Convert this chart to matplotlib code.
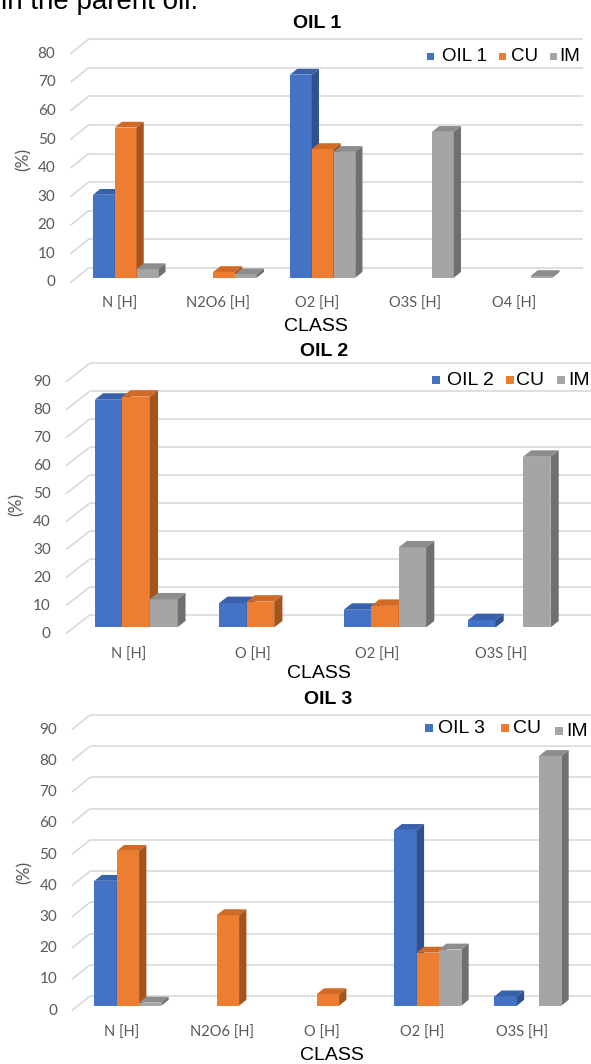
import numpy as np
import matplotlib
matplotlib.use("Agg")
import matplotlib.pyplot as plt
from matplotlib.patches import Polygon, Rectangle

W, H = 591, 1064
DPI = 100

# ---- data -------------------------------------------------------------
oil1_classes = ["N [H]", "N2O6 [H]", "O2 [H]", "O3S [H]", "O4 [H]"]
oil1_oil = [29, 0, 71, 0, 0]
oil1_cu = [52.5, 2, 45, 0, 0]
oil1_im = [3, 1.2, 44, 51, 0.6]
oil1_ticks = list(range(0, 90, 10))

oil2_classes = ["N [H]", "O [H]", "O2 [H]", "O3S [H]"]
oil2_oil = [81.4, 8.7, 6.3, 2.6]
oil2_cu = [82.5, 9.2, 7.7, 0]
oil2_im = [10, 0, 28.6, 61]
oil2_ticks = list(range(0, 100, 10))

oil3_classes = ["N [H]", "N2O6 [H]", "O [H]", "O2 [H]", "O3S [H]"]
oil3_oil = [40, 0, 0, 56.3, 3]
oil3_cu = [49.6, 29, 3.7, 17, 0]
oil3_im = [1, 0, 0, 18, 80]
oil3_ticks = list(range(0, 100, 10))

# ---- style ------------------------------------------------------------
FRONT = ["#4472C4", "#ED7D31", "#A5A5A5"]
TOP = ["#3861AC", "#D06A25", "#8D8D8D"]
SIDE = ["#2F528F", "#A5541C", "#707070"]
GRID = "#D9D9D9"
TICK_COLOR = "#595959"
TICK_FONT = ["Lato", "DejaVu Sans"]
MAIN_FONT = ["Liberation Sans", "DejaVu Sans"]

fig = plt.figure(figsize=(W / DPI, H / DPI), dpi=DPI)
fig.patch.set_facecolor("white")


def fpos(x, y):
    return x / W, 1 - y / H


def draw_panel(classes, series, ticks, title, first_label, lay):
    T, B = lay["box"]
    c0, s, y0, k = lay["c0"], lay["s"], lay["y0"], lay["k"]
    ax = fig.add_axes([0, 1 - B / H, 1, (B - T) / H])
    ax.set_xlim((0 - c0) / s, (W - c0) / s)
    ax.set_ylim((y0 - B) / k, (y0 - T) / k)
    ax.axis("off")

    dxc = lay["dx"] / s
    dyu = lay["dy"] / k
    x_left = -0.5
    x_back_right = (lay["grid_right"] - c0) / s

    # back wall gridlines and left-wall diagonals
    for v in ticks:
        ax.plot([x_left, x_left + dxc], [v, v + dyu], color=GRID, lw=1.2,
                zorder=1, solid_capstyle="butt")
        ax.plot([x_left + dxc, x_back_right], [v + dyu, v + dyu], color=GRID,
                lw=1.2, zorder=1, solid_capstyle="butt")
        ax.text(x_left - lay["tick_gap"] / s, v, str(v), ha="right",
                va="center", fontsize=11, color=TICK_COLOR, family=TICK_FONT)

    # category labels
    for i, name in enumerate(classes):
        ax.text(i, -lay["xlab_off"] / k, name, ha="center", va="center",
                fontsize=10.5, color=TICK_COLOR, family=TICK_FONT)

    # pseudo-3D bars
    w = lay["bar_w"]
    d1, dd = lay["d1"], lay["dd"]
    base = d1 * dyu
    ddx, ddy = dd * dxc, dd * dyu
    xs = np.arange(len(classes))
    for j, vals in enumerate(series):
        vals = np.asarray(vals, dtype=float)
        keep = vals > 0
        xc = xs[keep] + (j - 1) * w + d1 * dxc
        hv = vals[keep]
        z = 3 + j
        ax.bar(xc, hv, width=w, bottom=base, color=FRONT[j], linewidth=0,
               zorder=z)
        for x, v in zip(xc, hv):
            xl, xr = x - w / 2, x + w / 2
            top = base + v
            ax.add_patch(Polygon([(xl, top), (xr, top), (xr + ddx, top + ddy),
                                  (xl + ddx, top + ddy)], closed=True,
                                 facecolor=TOP[j], edgecolor="none", zorder=z))
            ax.add_patch(Polygon([(xr, base), (xr, top), (xr + ddx, top + ddy),
                                  (xr + ddx, base + ddy)], closed=True,
                                 facecolor=SIDE[j], edgecolor="none", zorder=z))

    # titles and axis captions
    tx, ty = lay["title"]
    fig.text(*fpos(tx, ty), title, ha="center", va="center", fontsize=14,
             fontweight="bold", family=MAIN_FONT)
    cx, cy = lay["class"]
    fig.text(*fpos(cx, cy), "CLASS", ha="center", va="center", fontsize=14,
             family=MAIN_FONT)
    px, py = lay["ylab"]
    fig.text(*fpos(px, py), "(%)", ha="center", va="center", rotation=90,
             fontsize=12.5, color=TICK_COLOR, family=TICK_FONT)

    # legend
    labels = [first_label, "CU", "IM"]
    for j, (sqx, txx, dy_leg) in enumerate(lay["legend"]):
        ly = lay["legend_y"] + dy_leg
        sq = lay["sq"]
        fx, fy = fpos(sqx, ly + sq / 2)
        fig.patches.append(Rectangle((fx, fy), sq / W, sq / H,
                                     transform=fig.transFigure,
                                     facecolor=FRONT[j], edgecolor="none"))
        fig.text(*fpos(txx, ly), labels[j], ha="left", va="center",
                 fontsize=lay["leg_fs"], family=MAIN_FONT)


# fragment of the caption line above the charts
fig.text(*fpos(1, 9), "in the parent oil.", ha="left", va="baseline",
         fontsize=20, family=MAIN_FONT)

lay1 = dict(box=(0, 340), c0=119.7, s=98.5, y0=282.5, k=2.86, dx=18, dy=14.5,
            grid_right=582.7, tick_gap=15, xlab_off=21.5, bar_w=0.221,
            d1=0.33, dd=0.4, title=(316.7, 24),
            ylab=(24, 159), legend_y=56.5, sq=7, leg_fs=13.5,
            legend=[(427, 442, 0), (499, 511, 0), (550, 559, 0)])
lay1["class"] = (316, 326.7)

lay2 = dict(box=(340, 690), c0=128.3, s=124.4, y0=633.5, k=2.797, dx=23.5,
            dy=18.5, grid_right=591, tick_gap=15.4, xlab_off=21.5,
            bar_w=0.221, d1=0.33, dd=0.35, title=(324, 351.7),
            ylab=(17, 504), legend_y=380, sq=8, leg_fs=14,
            legend=[(432, 447, 0), (506, 516, 0), (557, 568, 0)])
lay2["class"] = (319.3, 673.3)

lay3 = dict(box=(690, 1064), c0=121.7, s=100, y0=1010.7, k=3.122, dx=18.3,
            dy=14.7, grid_right=591, tick_gap=14.4, xlab_off=22,
            bar_w=0.223, d1=0.34, dd=0.4, title=(328.3, 700),
            ylab=(24.5, 872.5), legend_y=728.3, sq=8, leg_fs=14,
            legend=[(424.5, 437.7, 0), (501, 512.7, 0), (554.5, 566.7, 3)])
lay3["class"] = (331.7, 1056)

draw_panel(oil1_classes, [oil1_oil, oil1_cu, oil1_im], oil1_ticks, "OIL 1",
           "OIL 1", lay1)
draw_panel(oil2_classes, [oil2_oil, oil2_cu, oil2_im], oil2_ticks, "OIL 2",
           "OIL 2", lay2)
draw_panel(oil3_classes, [oil3_oil, oil3_cu, oil3_im], oil3_ticks, "OIL 3",
           "OIL 3", lay3)

fig.savefig("out.png", dpi=DPI, facecolor="white")
